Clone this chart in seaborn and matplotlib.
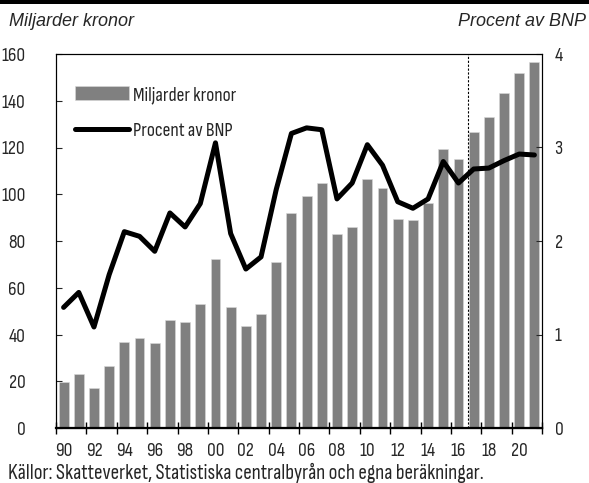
#!/usr/bin/env python3

import numpy as np
import pandas as pd
import matplotlib
matplotlib.use("Agg")
import matplotlib.pyplot as plt
import seaborn as sns

# data
years = list(range(1990, 2022))
mdr_kronor = [19.5, 23.1, 17.2, 26.7, 36.7, 38.5, 36.2, 46.3, 45.5, 53.2,
              72.3, 51.8, 43.6, 48.6, 71.2, 91.8, 99.1, 104.7, 82.8, 86.1,
              106.4, 102.5, 89.3, 88.9, 96.4, 119.3, 115.0, 126.5, 132.9, 143.2,
              152.0, 156.7]
pct_bnp = [1.29, 1.45, 1.08, 1.64, 2.10, 2.05, 1.89, 2.30, 2.15, 2.40,
           3.05, 2.08, 1.70, 1.83, 2.55, 3.15, 3.21, 3.19, 2.45, 2.62,
           3.03, 2.81, 2.42, 2.35, 2.45, 2.85, 2.62, 2.77, 2.78, 2.86,
           2.93, 2.92]
left_ticks = [0, 20, 40, 60, 80, 100, 120, 140, 160]
right_ticks = [0, 1, 2, 3, 4]
label_years = list(range(1990, 2022, 2))
forecast_start = 2016.6

df = pd.DataFrame({"year": years, "mdr": mdr_kronor, "pct": pct_bnp})

sns.set_style("white")
plt.rcParams["font.family"] = ["Sofia Sans Condensed", "Liberation Sans Narrow", "DejaVu Sans"]
plt.rcParams["font.size"] = 13

FS = 14

fig = plt.figure(figsize=(5.89, 4.83), dpi=100)
ax = fig.add_axes([56 / 589, 1 - 428 / 483, (542 - 56) / 589, (428 - 54) / 483])

sns.barplot(data=df, x="year", y="mdr", native_scale=True, width=0.65,
            color="#808080", saturation=1, edgecolor="#d9d9d9", linewidth=0.4,
            label="Miljarder kronor", ax=ax)

ax2 = ax.twinx()
sns.lineplot(data=df, x="year", y="pct", color="black", linewidth=3.6,
             label="Procent av BNP", ax=ax2)
ax2.axvline(forecast_start, color="black", linewidth=0.8, linestyle=(0, (2, 1.5)))

ax.set_xlim(1989.5, 2021.5)
ax.set_ylim(0, 160)
ax2.set_ylim(0, 4)
ax.set_yticks(left_ticks)
ax2.set_yticks(right_ticks)
ax.set_xlabel("")
ax.set_ylabel("")
ax2.set_ylabel("")

# ticks at the bar edges, labels under the bars
ax.set_xticks([y - 0.5 for y in label_years] + [2021.5])
ax.set_xticklabels([])
ax.set_xticks(label_years, minor=True)
ax.set_xticklabels([f"{y % 100:02d}" for y in label_years], minor=True)
ax.tick_params(axis="x", which="major", direction="inout", length=8, width=1,
               bottom=True, color="black")
ax.tick_params(axis="x", which="minor", length=0, pad=10, labelsize=FS)
ax.tick_params(axis="y", direction="in", length=4, width=0.8, left=True,
               pad=22, labelsize=FS)
ax2.tick_params(axis="y", direction="in", length=4, width=0.8, right=True,
                pad=9, labelsize=FS)

for a in (ax, ax2):
    for s in a.spines.values():
        s.set_color("black")
        s.set_linewidth(0.8)
ax.spines["bottom"].set_linewidth(1.6)

h1, l1 = ax.get_legend_handles_labels()
h2, l2 = ax2.get_legend_handles_labels()
if ax.get_legend() is not None:
    ax.get_legend().remove()
leg = ax2.legend(h1 + h2, l1 + l2, loc="upper left", bbox_to_anchor=(0.024, 0.935),
                 frameon=False, handlelength=2.75, handletextpad=0.2,
                 labelspacing=0.9, fontsize=FS, borderaxespad=0)
for line in leg.get_lines():
    line.set_solid_capstyle("round")

# header
fig.add_artist(plt.Rectangle((0, 1 - 4 / 483), 1, 4 / 483, transform=fig.transFigure,
                             color="black", lw=0))
fig.text(9 / 589, 1 - 21 / 483, "Miljarder kronor", style="italic",
         family="Liberation Sans", fontsize=13, va="center", ha="left")
fig.text(586 / 589, 1 - 21 / 483, "Procent av BNP", style="italic",
         family="Liberation Sans", fontsize=13, va="center", ha="right")
fig.text(8 / 589, 1 - 473 / 483, "Källor: Skatteverket, Statistiska centralbyrån och egna beräkningar.",
         fontsize=15.2, va="center", ha="left")

fig.savefig("out.png", dpi=100)
